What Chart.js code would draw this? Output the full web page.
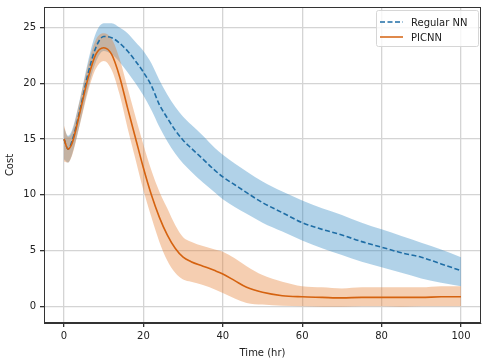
<!DOCTYPE html>
<html>
<head>
<meta charset="utf-8">
<script src="https://cdn.jsdelivr.net/npm/chart.js@4.4.1/dist/chart.umd.min.js"></script>
<style>
  html, body { margin: 0; padding: 0; background: #fff; }
  canvas { display: block; }
</style>
</head>
<body>
<canvas id="costChart" width="488" height="364"></canvas>
<script>
// Time axis (hr)
const timeHr = [0, 1, 2, 4, 6, 8, 10, 12, 14, 16, 18, 20, 22, 24, 26, 28, 30, 32, 35, 38,
                40, 43, 46, 50, 55, 60, 65, 70, 75, 80, 85, 90, 95, 100];

// Regular NN: mean and band
const regularMean = [15.0, 14.1, 14.8, 17.6, 20.8, 23.2, 24.2, 24.1, 23.6, 22.9, 22.0, 21.0, 19.8, 18.1, 16.9, 15.8, 14.9, 14.2, 13.2, 12.2,
                     11.6, 10.9, 10.2, 9.3, 8.4, 7.5, 6.9, 6.4, 5.8, 5.3, 4.8, 4.4, 3.8, 3.2];
const regularUpper = [16.0, 15.3, 15.8, 18.6, 21.9, 24.5, 25.4, 25.4, 25.0, 24.5, 23.7, 22.9, 21.8, 20.3, 19.0, 17.9, 17.0, 16.3, 15.3, 14.2,
                      13.6, 12.8, 12.1, 11.2, 10.3, 9.5, 8.8, 8.2, 7.5, 6.9, 6.3, 5.7, 5.1, 4.4];
const regularLower = [13.2, 12.9, 13.6, 16.4, 19.5, 21.9, 22.9, 22.6, 21.9, 21.0, 20.0, 18.9, 17.6, 16.1, 14.8, 13.7, 12.8, 12.1, 11.1, 10.2,
                      9.6, 8.9, 8.3, 7.5, 6.7, 5.9, 5.2, 4.6, 4.0, 3.5, 3.0, 2.5, 2.1, 1.8];

// PICNN: mean and band
const picnnMean = [15.0, 14.1, 14.6, 17.4, 20.4, 22.6, 23.2, 22.6, 20.6, 17.8, 15.1, 12.4, 10.0, 8.0, 6.4, 5.2, 4.4, 4.0, 3.6, 3.2,
                   2.9, 2.3, 1.7, 1.25, 0.95, 0.85, 0.8, 0.75, 0.8, 0.8, 0.8, 0.8, 0.85, 0.85];
const picnnUpper = [16.2, 15.2, 15.6, 18.5, 21.6, 23.9, 24.5, 24.0, 22.2, 19.6, 17.0, 14.5, 12.2, 10.3, 8.8, 7.3, 6.2, 5.8, 5.4, 5.1,
                    4.9, 4.3, 3.6, 2.8, 2.2, 1.8, 1.7, 1.6, 1.7, 1.7, 1.7, 1.7, 1.8, 1.8];
const picnnLower = [13.0, 12.9, 13.5, 16.3, 19.2, 21.3, 22.0, 21.2, 19.0, 16.0, 13.2, 10.4, 8.0, 5.8, 4.1, 3.0, 2.4, 2.2, 1.9, 1.5,
                    1.2, 0.7, 0.3, 0.15, 0.05, 0.0, -0.05, -0.05, 0.0, 0.0, -0.05, 0.0, 0.0, 0.0];

const xTicks = [0, 20, 40, 60, 80, 100];
const yTicks = [0, 5, 10, 15, 20, 25];

const blueLine = '#1f6ea6';
const orangeLine = '#d5620f';
const blueFill = 'rgba(40, 130, 190, 0.36)';
const orangeFill = 'rgba(228, 125, 50, 0.38)';

function toPoints(values) {
    return values.map((v, i) => ({ x: timeHr[i], y: v }));
}

const tickFont = { family: 'DejaVu Sans', size: 10 };

// Draw the top and right spines, plus the legend box
const framePlugin = {
    id: 'frame',
    afterDraw(chart) {
        const ctx = chart.ctx;
        const a = chart.chartArea;
        ctx.save();
        ctx.strokeStyle = '#333';
        ctx.lineWidth = 1;
        ctx.strokeRect(a.left + 0.5, a.top + 0.5, a.right - a.left - 1, a.bottom - a.top - 1);

        // legend
        const lx = 376, ly = 10, lw = 102, lh = 36;
        ctx.fillStyle = 'rgba(255,255,255,0.8)';
        ctx.strokeStyle = '#d6d6d6';
        ctx.beginPath();
        ctx.roundRect(lx + 0.5, ly + 0.5, lw, lh, 2);
        ctx.fill();
        ctx.stroke();

        const items = [
            { label: 'Regular NN', color: blueLine, dash: [5, 2.5], y: ly + 12 },
            { label: 'PICNN', color: orangeLine, dash: [], y: ly + 27 }
        ];
        ctx.font = '10px "DejaVu Sans"';
        ctx.textBaseline = 'middle';
        items.forEach(it => {
            ctx.strokeStyle = it.color;
            ctx.lineWidth = 1.5;
            ctx.setLineDash(it.dash);
            ctx.beginPath();
            ctx.moveTo(lx + 4, it.y);
            ctx.lineTo(lx + 27, it.y);
            ctx.stroke();
            ctx.setLineDash([]);
            ctx.fillStyle = '#222';
            ctx.fillText(it.label, lx + 35, it.y + 1);
        });
        ctx.restore();
    }
};

const ctx = document.getElementById('costChart').getContext('2d');
new Chart(ctx, {
    type: 'line',
    data: {
        datasets: [
            {
                label: 'PICNN',
                data: toPoints(picnnMean),
                borderColor: orangeLine,
                borderWidth: 1.6,
                pointRadius: 0,
                fill: false,
                order: 0
            },
            {
                label: 'Regular NN',
                data: toPoints(regularMean),
                borderColor: blueLine,
                borderWidth: 1.6,
                borderDash: [5, 2.5],
                pointRadius: 0,
                fill: false,
                order: 1
            },
            {
                label: 'PICNN upper',
                data: toPoints(picnnUpper),
                borderWidth: 0,
                borderColor: 'rgba(0,0,0,0)',
                backgroundColor: orangeFill,
                pointRadius: 0,
                fill: '+1',
                order: 2
            },
            {
                label: 'PICNN lower',
                data: toPoints(picnnLower),
                borderWidth: 0,
                borderColor: 'rgba(0,0,0,0)',
                pointRadius: 0,
                fill: false,
                order: 3
            },
            {
                label: 'Regular NN upper',
                data: toPoints(regularUpper),
                borderWidth: 0,
                borderColor: 'rgba(0,0,0,0)',
                backgroundColor: blueFill,
                pointRadius: 0,
                fill: '+1',
                order: 4
            },
            {
                label: 'Regular NN lower',
                data: toPoints(regularLower),
                borderWidth: 0,
                borderColor: 'rgba(0,0,0,0)',
                pointRadius: 0,
                fill: false,
                order: 5
            }
        ]
    },
    options: {
        responsive: false,
        maintainAspectRatio: false,
        animation: false,
        elements: {
            line: { tension: 0.3, cubicInterpolationMode: 'monotone' }
        },
        layout: {
            padding: { left: 0, right: 7, top: 7, bottom: 0 }
        },
        scales: {
            x: {
                type: 'linear',
                min: -5.05,
                max: 105.05,
                afterBuildTicks: s => { s.ticks = xTicks.map(v => ({ value: v })); },
                afterFit: s => { s.height = 41; s.paddingLeft = 0; s.paddingRight = 0; },
                grid: { color: '#d4d4d4', lineWidth: 1.3, tickColor: '#333', tickLength: 4 },
                border: { display: true, color: '#333', width: 1 },
                ticks: { font: tickFont, color: '#222', padding: 3, maxRotation: 0 },
                title: { display: true, text: 'Time (hr)', font: tickFont, color: '#222', padding: { top: 2, bottom: 5 } }
            },
            y: {
                min: -1.5,
                max: 26.85,
                afterBuildTicks: s => { s.ticks = yTicks.map(v => ({ value: v })); },
                afterFit: s => { s.width = 44; s.paddingTop = 0; s.paddingBottom = 0; },
                grid: { color: '#d4d4d4', lineWidth: 1.3, tickColor: '#333', tickLength: 4 },
                border: { display: true, color: '#333', width: 1 },
                ticks: { font: tickFont, color: '#222', padding: 4 },
                title: { display: true, text: 'Cost', font: tickFont, color: '#222', padding: { top: 4, bottom: 2 } }
            }
        },
        plugins: {
            legend: { display: false },
            tooltip: { enabled: false }
        }
    },
    plugins: [framePlugin]
});
</script>
</body>
</html>
